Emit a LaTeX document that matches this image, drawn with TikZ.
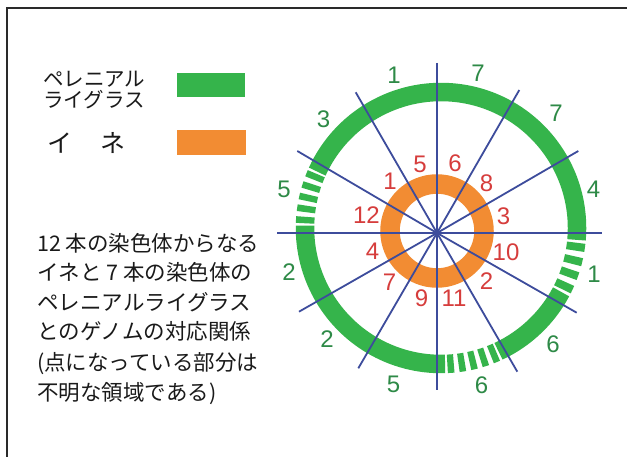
\documentclass[tikz,border=0pt]{standalone}
\usepackage{fontspec}
\newfontfamily\jpfont{Noto Sans CJK JP}
\newfontfamily\numfont{Liberation Sans}
\definecolor{ringgreen}{HTML}{35B44B}
\definecolor{ringorange}{HTML}{F28C33}
\definecolor{spoke}{HTML}{3D4C9C}
\definecolor{numgreen}{HTML}{2E8A47}
\definecolor{numred}{HTML}{D63D3C}
\definecolor{framegray}{HTML}{2A2A2A}
\definecolor{jpblack}{HTML}{1A1A1A}
\tikzset{
  greenring/.style={draw=ringgreen, line width=18.5pt, line cap=butt},
  orangering/.style={draw=ringorange, line width=19.5pt},
  spokeline/.style={draw=spoke, line width=1.8pt},
  gnum/.style={text=numgreen, font=\numfont\fontsize{24}{24}\selectfont, inner sep=0pt, text height=17.2pt, text depth=0pt},
  rnum/.style={text=numred, font=\numfont\fontsize{24}{24}\selectfont, inner sep=0pt, text height=17.2pt, text depth=0pt},
  jptext/.style={text=jpblack, font=\jpfont\fontsize{21.5}{21.5}\selectfont, inner sep=0pt, anchor=west, text height=18.9pt, text depth=2.6pt},
  legendtext/.style={text=jpblack, font=\jpfont\fontsize{20.5}{20.5}\selectfont, inner sep=0pt, anchor=west, text height=16pt, text depth=1pt},
  legendbig/.style={text=jpblack, font=\jpfont\fontsize{25}{25}\selectfont, inner sep=0pt, anchor=center},
  legendbox/.style={inner sep=0pt, anchor=north west, minimum width=68pt, minimum height=24pt}
}
\begin{document}
\begin{tikzpicture}[x=1pt,y=1pt]
\useasboundingbox (0,0) rectangle (627,-457);
\fill[white] (0,0) rectangle (627,-457);
% frame
\draw[framegray, line width=2pt] (7,-457) -- (7,-8) -- (627,-8);

% legend
\node[legendtext] (lp1) at (43,-79) {ペレニアル};
\node[legendtext] (lp2) at (43,-100) {ライグラス};
\node[legendbox, fill=ringgreen] (lg) at (177,-73) {};
\node[legendbig] (li1) at (60,-143) {イ};
\node[legendbig] (li2) at (112.5,-143) {ネ};
\node[legendbox, fill=ringorange, minimum height=25pt, minimum width=69pt] (lo) at (177,-130) {};

% paragraph
\node[jptext] (t1) at (37,-243) {12 本の染色体からなる};
\node[jptext] (t2) at (37,-272) {イネと 7 本の染色体の};
\node[jptext] (t3) at (37,-302) {ペレニアルライグラス};
\node[jptext] (t4) at (37,-331) {とのゲノムの対応関係};
\node[jptext] (t5) at (37,-362) {(点になっている部分は};
\node[jptext] (t6) at (37,-392) {不明な領域である)};

% green ring (centre 441,228)
\coordinate (G) at (441,-228);
\draw[greenring] (G) ++(-65:136) arc[start angle=-65, end angle=-28, radius=136];
\draw[greenring] (G) ++(-5:136) arc[start angle=-5, end angle=155.5, radius=136];
\draw[greenring] (G) ++(179:136) arc[start angle=179, end angle=271.7, radius=136];
\foreach \a/\b/\n in {155.5/179/5, -28/-5/4, -88.3/-65/5} {
  \pgfmathsetmacro\st{(\b-\a)/\n}
  \foreach \i in {1,...,\n} {
    \pgfmathsetmacro\s{\a+(\i-1)*\st+0.21*\st}
    \pgfmathsetmacro\e{\a+\i*\st-0.21*\st}
    \draw[greenring] (G) ++(\s:136) arc[start angle=\s, end angle=\e, radius=136];
  }
}

% orange ring
\coordinate (O) at (437,-231);
\draw[orangering] (O) circle[radius=47];

% spokes
\coordinate (c) at (437,-233);
\coordinate (s0) at (601.7,-233);
\coordinate (s180) at (277,-233);
\coordinate (s90) at (437,-63);
\coordinate (s270) at (437,-390);
\coordinate (s60) at (519.3,-90);
\coordinate (s240) at (358.3,-368.3);
\coordinate (s30) at (578.3,-151);
\coordinate (s210) at (299,-311.7);
\coordinate (s120) at (355.7,-92.3);
\coordinate (s300) at (517.3,-371.7);
\coordinate (s150) at (297.3,-151);
\coordinate (s330) at (576.7,-312.7);
\draw[spokeline] (s0) -- (c) -- (s180);
\draw[spokeline] (s90) -- (c) -- (s270);
\draw[spokeline] (s60) -- (c) -- (s240);
\draw[spokeline] (s30) -- (c) -- (s210);
\draw[spokeline] (s120) -- (c) -- (s300);
\draw[spokeline] (s150) -- (c) -- (s330);

% green labels
\node[gnum] (g1) at (394,-75) {1};
\node[gnum] (g2) at (478,-72.5) {7};
\node[gnum] (g3) at (556,-113) {7};
\node[gnum] (g4) at (323.5,-119) {3};
\node[gnum] (g5) at (284,-189) {5};
\node[gnum] (g6) at (593.5,-189) {4};
\node[gnum] (g7) at (289,-272) {2};
\node[gnum] (g8) at (594,-274) {1};
\node[gnum] (g9) at (327,-339) {2};
\node[gnum] (g10) at (553,-344) {6};
\node[gnum] (g11) at (393.5,-384) {5};
\node[gnum] (g12) at (481.5,-385) {6};

% red labels
\node[rnum] (r5) at (420,-164) {5};
\node[rnum] (r6) at (455,-162.5) {6};
\node[rnum] (r1) at (390,-181) {1};
\node[rnum] (r8) at (486.5,-182.5) {8};
\node[rnum] (r12) at (366.5,-215) {12};
\node[rnum] (r3) at (503.5,-215.5) {3};
\node[rnum] (r4) at (372.5,-250.5) {4};
\node[rnum] (r10) at (506,-252) {10};
\node[rnum] (r7) at (389.5,-282) {7};
\node[rnum] (r2) at (486.5,-281) {2};
\node[rnum] (r9) at (421.5,-297.5) {9};
\node[rnum] (r11) at (454,-297.5) {11};
\end{tikzpicture}
\end{document}
